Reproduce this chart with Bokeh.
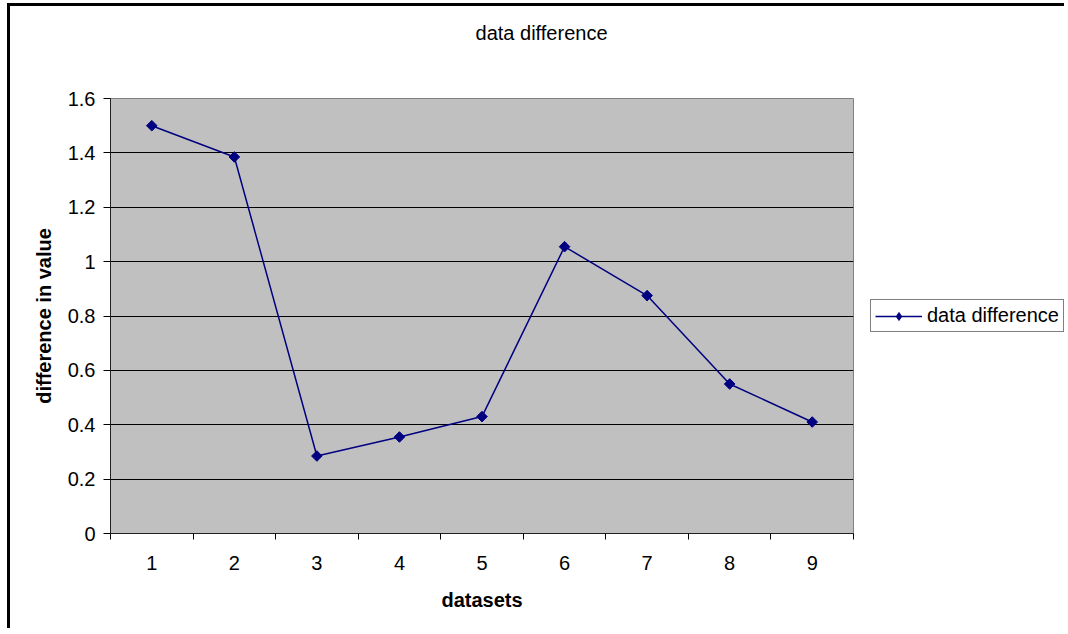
import numpy as np
from bokeh.plotting import figure
from bokeh.layouts import row
from bokeh.models import (FixedTicker, NumeralTickFormatter, Legend, LegendItem, Range1d, Title)
from bokeh.embed import file_html
from bokeh.resources import INLINE

# data
datasets = [1, 2, 3, 4, 5, 6, 7, 8, 9]
difference = [1.50, 1.385, 0.285, 0.355, 0.43, 1.055, 0.875, 0.55, 0.41]
y_ticks = [0, 0.2, 0.4, 0.6, 0.8, 1.0, 1.2, 1.4, 1.6]
series_name = "data difference"

FONT = "Liberation Sans"
FS = "20px"
NAVY = "#000080"

# ---- main chart ----
p = figure(width=860, height=622, output_backend="svg", toolbar_location=None,
           x_range=Range1d(0.5, 9.5), y_range=Range1d(0, 1.6),
           min_border_left=100, min_border_right=17,
           min_border_top=92, min_border_bottom=95)

p.background_fill_color = "#C0C0C0"
p.border_fill_color = "white"
p.outline_line_color = "#808080"
p.outline_line_width = 1

# chart title, lifted away from the plot area by an empty spacer title
p.title.text = series_name
p.title.align = "right"
p.title.offset = 246
p.title.vertical_align = "middle"
p.title.standoff = 10
p.title.text_font = FONT
p.title.text_font_size = FS
p.title.text_font_style = "normal"
p.title.text_color = "black"
p.add_layout(Title(text=" ", text_font_size="1px", standoff=46), "above")

# x axis: labels at category centres, ticks on category boundaries
xa = p.xaxis[0]
xa.ticker = FixedTicker(ticks=datasets, minor_ticks=[i + 0.5 for i in range(0, 10)])
xa.major_tick_line_color = None
xa.minor_tick_line_color = "black"
xa.minor_tick_out = 6
xa.minor_tick_in = 0
xa.axis_line_color = "#222222"
xa.major_label_text_font = FONT
xa.major_label_text_font_size = FS
xa.major_label_text_color = "black"
xa.major_label_standoff = 16
xa.axis_label = "datasets"
xa.axis_label_text_font = FONT
xa.axis_label_text_font_size = FS
xa.axis_label_text_font_style = "bold"
xa.axis_label_text_color = "black"
xa.axis_label_standoff = 16

# y axis
ya = p.yaxis[0]
ya.ticker = FixedTicker(ticks=y_ticks)
ya.formatter = NumeralTickFormatter(format="0.[0]")
ya.major_tick_out = 7
ya.major_tick_in = 0
ya.major_tick_line_color = "black"
ya.minor_tick_line_color = None
ya.axis_line_color = "#222222"
ya.major_label_text_font = FONT
ya.major_label_text_font_size = FS
ya.major_label_text_color = "black"
ya.major_label_standoff = 8
ya.axis_label = "difference in value"
ya.axis_label_text_font = FONT
ya.axis_label_text_font_size = FS
ya.axis_label_text_font_style = "bold"
ya.axis_label_text_color = "black"
ya.axis_label_standoff = 10

p.xgrid.grid_line_color = None
p.ygrid.grid_line_color = "black"

p.line(datasets, difference, line_color=NAVY, line_width=1.5)
p.scatter(datasets, difference, marker="square", angle=np.pi / 4, size=7.5,
          fill_color=NAVY, line_color=NAVY)

# ---- legend panel to the right of the chart ----
# the series is repeated here outside the visible range, only to feed the key
q = figure(width=194, height=622, output_backend="svg", toolbar_location=None,
           x_range=Range1d(100, 101), y_range=Range1d(100, 101),
           x_axis_type=None, y_axis_type=None,
           min_border_left=0, min_border_right=0, min_border_top=0, min_border_bottom=0)
q.outline_line_color = None
q.background_fill_color = "white"
q.border_fill_color = "white"
q.xgrid.grid_line_color = None
q.ygrid.grid_line_color = None
key_line = q.line(datasets, difference, line_color=NAVY, line_width=1.5)
key_mark = q.scatter(datasets, difference, marker="diamond", size=11,
                     fill_color=NAVY, line_color=NAVY)

legend = Legend(items=[LegendItem(label=series_name, renderers=[key_line, key_mark])],
                location=(0, 201), orientation="vertical")
legend.label_text_font = FONT
legend.label_text_font_size = FS
legend.label_text_color = "black"
legend.border_line_color = "black"
legend.background_fill_color = "white"
legend.glyph_width = 47
legend.label_standoff = 5
legend.padding = 4
legend.margin = 0
legend.spacing = 0
q.add_layout(legend, "center")

# black frame along the top and left edges of the chart area
layout = row(p, q, spacing=0)
layout.styles = {"border-left": "3px solid black", "border-top": "3px solid black",
                 "position": "absolute", "left": "7px", "top": "3px"}

open("out.html", "w").write(file_html(layout, INLINE))
